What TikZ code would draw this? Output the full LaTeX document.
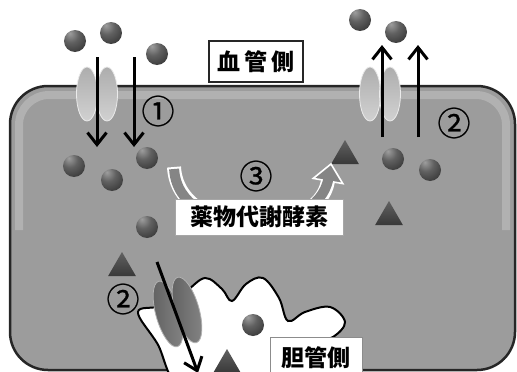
\documentclass[tikz,border=0pt]{standalone}
\usepackage{fontspec}
\newfontfamily\cjk{Noto Sans CJK JP}
\newfontfamily\cjknum[FakeBold=0.7]{Noto Sans CJK JP}
\usepackage{tikz}
\usetikzlibrary{arrows.meta,shapes.geometric}
\definecolor{cellgray}{RGB}{156,156,156}
\pgfdeclareradialshading{sphere}{\pgfpoint{-12bp}{18bp}}{color(0bp)=(black!38); color(18bp)=(black!62); color(40bp)=(black!78); color(50bp)=(black!84); color(100bp)=(black!84)}
\tikzstyle{mol} = [circle, minimum size=22pt, inner sep=0pt, shading=sphere]
\tikzstyle{tri} = [regular polygon, regular polygon sides=3, minimum size=32pt, inner sep=0pt, top color=black!62, bottom color=black!78]
\tikzstyle{pump} = [ellipse, minimum width=21pt, minimum height=54pt, inner sep=0pt, draw=black!8, line width=0.8pt, left color=black!32, right color=black!18, shading angle=0]
\tikzstyle{bpump} = [ellipse, minimum width=24pt, minimum height=68pt, inner sep=0pt, draw=black!30, line width=0.8pt, left color=black!62, right color=black!48]
\tikzstyle{arrow} = [line width=3pt, -{Straight Barb[length=12pt,width=19pt]}]
\tikzstyle{tag} = [rectangle, fill=white, inner sep=0pt, font=\cjk\bfseries\fontsize{23}{23}\selectfont]
\tikzstyle{num} = [font=\cjknum\fontsize{33}{33}\selectfont]

\begin{document}
\begin{tikzpicture}[x=1pt, y=-1pt]
    \useasboundingbox (0,0) rectangle (517,372);
    \clip (0,0) rectangle (517,372);

    % cell body
    \draw[line width=2.5pt, draw=black!85, fill=cellgray, rounded corners=38pt] (10,86) rectangle (515,370);
    \draw[white, opacity=0.22, line width=8pt, rounded corners=30pt] (19,230) -- (19,95) -- (506,95) -- (506,230);

    % bile canaliculus
    \draw[line width=2pt, fill=white] plot[smooth cycle, tension=0.6] coordinates {
        (138,312) (160,306) (185,292) (205,278) (222,289) (232,301) (246,284) (263,278)
        (279,298) (288,321) (305,312) (330,307) (345,322) (333,337) (310,345) (300,395)
        (190,395) (157,343)};

    % transporters
    \node[bpump, rotate=16] (bp1) at (168,314) {};
    \node[bpump, rotate=16] (bp2) at (187,310) {};
    \node[pump] (p1) at (87,94) {};
    \node[pump] (p2) at (107,94) {};
    \node[pump] (p3) at (370,94) {};
    \node[pump] (p4) at (390,94) {};

    % drug molecules
    \node[mol] (m1) at (75,41) {};
    \node[mol] (m2) at (111,33) {};
    \node[mol] (m3) at (157,54) {};
    \node[mol] (m4) at (74,166) {};
    \node[mol] (m5) at (112,180) {};
    \node[mol] (m6) at (147,158) {};
    \node[mol] (m7) at (147,227) {};
    \node[mol] (m8) at (360,20) {};
    \node[mol] (m9) at (396,32) {};
    \node[mol] (m10) at (393,159) {};
    \node[mol] (m11) at (430,170) {};
    \node[mol] (m12) at (253,325) {};

    % metabolites
    \node[tri] (t1) at (345,156) {};
    \node[tri] (t2) at (389,217) {};
    \node[tri] (t3) at (122,268) {};
    \node[tri] (t4) at (227,365) {};

    % metabolism arrow
    \coordinate (ms) at (174,167);
    \coordinate (me) at (328,181);
    \coordinate (mtip) at (331,164);
    \coordinate (mh1) at (342.8,183.6);
    \coordinate (mh2) at (313.2,178.4);
    \draw[white, line width=14pt] (ms) .. controls (178,240) and (318,240) .. (me);
    \filldraw[fill=black!48, draw=white, line width=1.6pt] (mh1) -- (mtip) -- (mh2) -- cycle;
    \draw[black!48, line width=10pt, shorten <=2pt, shorten >=-3pt] (ms) .. controls (178,240) and (318,240) .. (me);

    % labels
    \node[tag, draw=black!85, line width=1.3pt, minimum width=94pt, minimum height=41pt] (blood) at (256,61.5) {血\hspace{4pt}管\hspace{4pt}側};
    \node[tag, draw=black!35, line width=0.8pt, minimum width=168pt, minimum height=36pt] (enzyme) at (259,217) {薬物代謝酵素};
    \node[tag, draw=black!45, line width=0.8pt, minimum width=92pt, minimum height=40pt] (bile) at (316,357.5) {胆管側};

    % transport arrows
    \coordinate (a1s) at (97,57);   \coordinate (a1e) at (97,147);
    \coordinate (a2s) at (134,57);  \coordinate (a2e) at (134,147);
    \coordinate (a3s) at (382,137); \coordinate (a3e) at (382,45);
    \coordinate (a4s) at (418,137); \coordinate (a4e) at (418,45);
    \coordinate (a5s) at (157,262); \coordinate (a5e) at (198,373);
    \draw[arrow] (a1s) -- (a1e);
    \draw[arrow] (a2s) -- (a2e);
    \draw[arrow] (a3s) -- (a3e);
    \draw[arrow] (a4s) -- (a4e);
    \draw[arrow] (a5s) -- (a5e);

    \node[num] (n1) at (158,111) {①};
    \node[num] (n2) at (454,123) {②};
    \node[num] (n3) at (256,176) {③};
    \node[num] (n4) at (123,299) {②};
\end{tikzpicture}
\end{document}
